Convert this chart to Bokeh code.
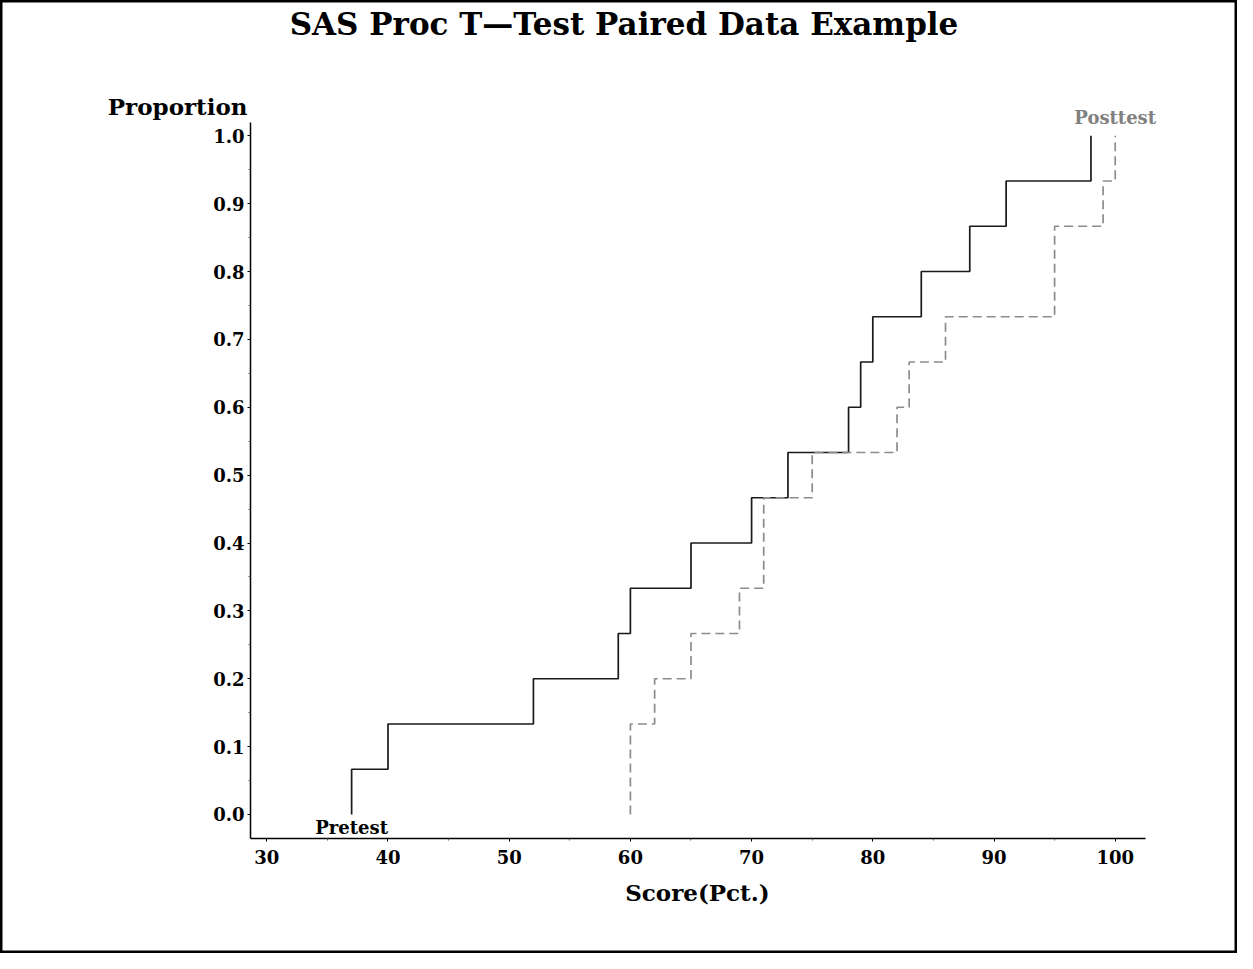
from bokeh.plotting import figure
from bokeh.models import Label, Range1d, FixedTicker, LinearAxis
from bokeh.embed import file_html
from bokeh.resources import INLINE

# Data: individual scores (read from the empirical CDF steps)
pretest = [37, 40, 52, 59, 60, 65, 70, 73, 78, 79, 80, 84, 88, 91, 98]
posttest = [60, 60, 62, 65, 69, 71, 71, 75, 82, 83, 86, 95, 95, 99, 100]
x_ticks = [30, 40, 50, 60, 70, 80, 90, 100]
x_minor = [35, 45, 55, 65, 75, 85, 95]
y_ticks = [0.0, 0.1, 0.2, 0.3, 0.4, 0.5, 0.6, 0.7, 0.8, 0.9, 1.0]
y_minor = [0.05, 0.15, 0.25, 0.35, 0.45, 0.55, 0.65, 0.75, 0.85, 0.95]

SERIF = "DejaVu Serif"

# axis extents (data units)
X0, X1 = 28.66, 102.5
Y0, Y1 = -0.0354, 1.0196


def ecdf_steps(vals):
    s = sorted(vals)
    n = len(s)
    xs, ys = [], []
    prev = 0.0
    cum = 0
    for v in sorted(set(s)):
        cum += s.count(v)
        xs += [v, v]
        ys += [prev, cum / n]
        prev = cum / n
    return xs, ys


p = figure(width=1237, height=953, output_backend="svg", toolbar_location=None,
           x_range=Range1d(8.03, 110.09), y_range=Range1d(-0.2048, 1.1993),
           x_axis_location=None, y_axis_location=None,
           min_border=0)
p.outline_line_color = "black"
p.outline_line_width = 4
p.xgrid.visible = False
p.ygrid.visible = False
p.background_fill_color = "white"
p.border_fill_color = "white"

px, py = ecdf_steps(pretest)
qx, qy = ecdf_steps(posttest)
p.line(px, py, line_color="#1a1a1a", line_width=1.7)
p.line(qx, qy, line_color="#8c8c8c", line_width=1.7, line_dash="9 5")

xaxis = LinearAxis(fixed_location=Y0, bounds=(X0, X1),
                   ticker=FixedTicker(ticks=x_ticks, minor_ticks=x_minor))
yaxis = LinearAxis(fixed_location=X0, bounds=(Y0, Y1),
                   ticker=FixedTicker(ticks=y_ticks, minor_ticks=y_minor))
for ax in (xaxis, yaxis):
    ax.axis_line_color = "black"
    ax.axis_line_width = 1.5
    ax.major_tick_line_color = "black"
    ax.minor_tick_line_color = "#555555"
    ax.major_tick_in = 0
    ax.major_tick_out = 3
    ax.minor_tick_in = 0
    ax.minor_tick_out = 2
    ax.major_label_text_font = SERIF
    ax.major_label_text_font_style = "bold"
    ax.major_label_text_font_size = "18px"
    ax.major_label_text_color = "black"
xaxis.major_label_standoff = 8
yaxis.major_label_standoff = 3
yaxis.major_label_overrides = {t: f"{t:.1f}" for t in y_ticks}
p.add_layout(xaxis, "below")
p.add_layout(yaxis, "left")


def lab(x, y, text, size, align="center", color="black"):
    p.add_layout(Label(x=x, y=y, text=text, text_font=SERIF, text_font_style="bold",
                       text_font_size=size, text_align=align, text_baseline="alphabetic",
                       text_color=color))


lab(59.47, 1.1651, "SAS Proc T\u2014Test Paired Data Example", "31px")
lab(28.41, 1.0432, "Proportion", "23px", align="right")
lab(65.53, -0.1153, "Score(Pct.)", "23px")
lab(pretest[0], -0.0190, "Pretest", "18px")
lab(posttest[-1], 1.0271, "Posttest", "18px", color="#808080")

open("out.html", "w").write(file_html(p, INLINE))
